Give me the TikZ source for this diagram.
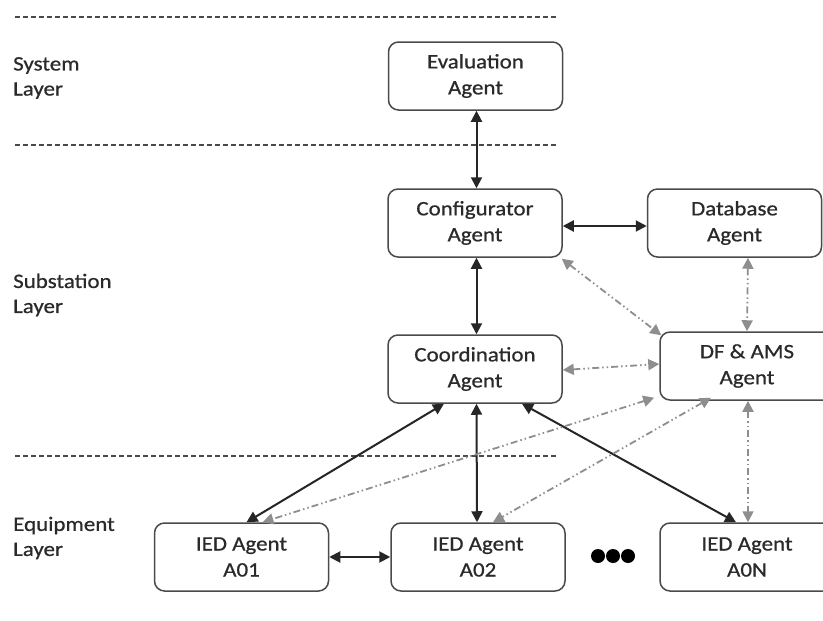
\documentclass[tikz,border=0pt]{standalone}
\usepackage{fontspec}
\setmainfont{Carlito}[FakeStretch=1.12,FakeBold=0.7]
\usetikzlibrary{arrows.meta,calc}
\definecolor{boxline}{HTML}{4A4A4A}
\definecolor{txt}{HTML}{2A2A2A}
\definecolor{dgray}{HTML}{8E8E8E}
\tikzset{
  agent/.style={draw=boxline, line width=1.5pt, rounded corners=10pt, fill=white,
    minimum width=174pt, minimum height=68pt, align=center, text=txt,
    font=\fontsize{20.5}{26}\selectfont, inner sep=0pt},
  layerlbl/.style={anchor=west, align=left, text=txt, inner sep=0pt,
    font=\fontsize{20.5}{25}\selectfont},
  layerline/.style={draw=boxline, line width=1.5pt, dash pattern=on 5pt off 3pt},
  solidarrow/.style={draw=black!85, line width=2pt,
    {Triangle[length=11pt,width=11pt]}-{Triangle[length=11pt,width=11pt]}},
  grayarrow/.style={draw=dgray, line width=1.8pt,
    dash pattern=on 7pt off 3pt on 1.5pt off 3pt on 1.5pt off 3pt,
    {Triangle[length=11pt,width=11pt]}-{Triangle[length=11pt,width=11pt]}},
  dot/.style={circle, fill=black, minimum size=14pt, inner sep=0pt}
}
\begin{document}
\begin{tikzpicture}[x=1pt,y=-1pt]
\useasboundingbox (0,0) rectangle (823,621);
\fill[white] (0,0) rectangle (823,621);

% layer separators
\coordinate (l1a) at (15,17);  \coordinate (l1b) at (558,17);
\coordinate (l2a) at (15,145); \coordinate (l2b) at (558,145);
\coordinate (l3a) at (15,456); \coordinate (l3b) at (558,456);
\draw[layerline] (l1a) -- (l1b);
\draw[layerline] (l2a) -- (l2b);
\draw[layerline] (l3a) -- (l3b);

% layer labels
\node[layerlbl] (sys) at (13,78) {System\\Layer};
\node[layerlbl] (sub) at (13,295) {Substation\\Layer};
\node[layerlbl] (equ) at (13,538) {Equipment\\Layer};

% agents
\node[agent] (eval)  at (475.5,76) {Evaluation\\Agent};
\node[agent] (conf)  at (475,223)  {Configurator\\Agent};
\node[agent] (db)    at (734.5,223) {Database\\Agent};
\node[agent] (coord) at (475,369)  {Coordination\\Agent};
\node[agent] (df)    at (747,366)  {DF \& AMS\\Agent};
\node[agent] (a01)   at (241.5,557) {IED Agent\\A01};
\node[agent] (a02)   at (478,557)  {IED Agent\\A02};
\node[agent] (a0n)   at (747,557)  {IED Agent\\A0N};

% ellipsis dots
\node[dot] (d1) at (598,556) {};
\node[dot] (d2) at (613,556) {};
\node[dot] (d3) at (628,556) {};

% black connectors
\draw[solidarrow] ([xshift=1pt]eval.south) -- ([xshift=1.5pt]conf.north);
\draw[solidarrow] ([yshift=-3pt]conf.east) -- ([yshift=-3pt]db.west);
\draw[solidarrow] ([xshift=1.5pt]conf.south) -- ([xshift=1.5pt]coord.north);
\draw[solidarrow] ([xshift=1.5pt]coord.south) -- ([xshift=-1pt]a02.north);
\draw[solidarrow] ([xshift=-31pt]coord.south) -- ([xshift=5pt]a01.north);
\draw[solidarrow] ([xshift=47pt]coord.south) -- ([xshift=-11pt]a0n.north);
\draw[solidarrow] (a01.east) -- (a02.west);

% gray dash-dot connectors
\draw[grayarrow] ([xshift=-1pt,yshift=-1pt]conf.south east) -- ([xshift=2pt,yshift=-4pt]df.north west);
\draw[grayarrow] ([xshift=13.5pt]db.south) -- (df.north);
\draw[grayarrow] ([yshift=-1pt]coord.east) -- ([yshift=2pt]df.west);
\draw[grayarrow] ([xshift=-5pt,yshift=3pt]df.south west) -- ([xshift=21pt]a01.north);
\draw[grayarrow] ([xshift=-36pt,yshift=3pt]df.south) -- ([xshift=15pt]a02.north);
\draw[grayarrow] ([xshift=1pt]df.south) -- ([xshift=1pt]a0n.north);
\end{tikzpicture}
\end{document}
